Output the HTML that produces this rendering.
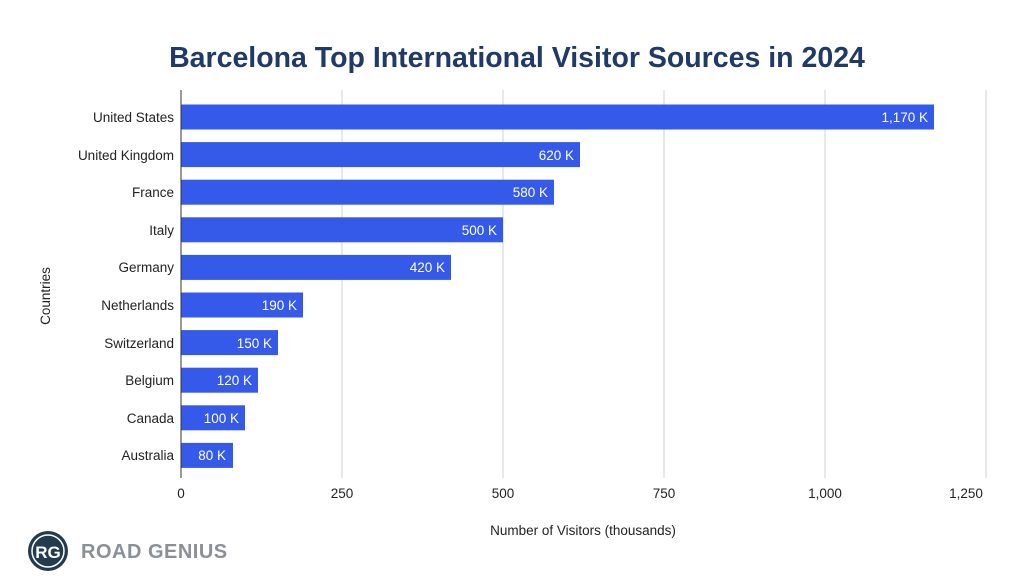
<!DOCTYPE html>
<html><head><style>body{margin:0;background:#fff}svg{display:block}</style></head><body>
<svg width="1024" height="582" xmlns="http://www.w3.org/2000/svg" font-family="Liberation Sans, Arial, sans-serif">
<rect width="1024" height="582" fill="#fff"/>
<text x="517" y="67" text-anchor="middle" font-size="28.5" font-weight="bold" fill="#1f3a68">Barcelona Top International Visitor Sources in 2024</text>
<g stroke="#d0d0d0" stroke-width="1">
<line x1="342" y1="90" x2="342" y2="478"/><line x1="503" y1="90" x2="503" y2="478"/><line x1="664" y1="90" x2="664" y2="478"/><line x1="825" y1="90" x2="825" y2="478"/><line x1="986" y1="90" x2="986" y2="478"/>
</g>
<g fill="#3559e9">
<rect x="181" y="104.5" width="753" height="25"/>
<rect x="181" y="142.1" width="399" height="25"/>
<rect x="181" y="179.7" width="373" height="25"/>
<rect x="181" y="217.3" width="322" height="25"/>
<rect x="181" y="254.9" width="270" height="25"/>
<rect x="181" y="292.5" width="122" height="25"/>
<rect x="181" y="330.1" width="97" height="25"/>
<rect x="181" y="367.7" width="77" height="25"/>
<rect x="181" y="405.3" width="64" height="25"/>
<rect x="181" y="442.9" width="52" height="25"/>
</g>
<line x1="181" y1="90" x2="181" y2="478" stroke="#333" stroke-width="1"/>
<g font-size="13.5" fill="#fff" text-anchor="end">
<text x="928" y="122">1,170 K</text><text x="574" y="160">620 K</text><text x="548" y="197">580 K</text><text x="497" y="235">500 K</text><text x="445" y="272">420 K</text><text x="297" y="310">190 K</text><text x="272" y="348">150 K</text><text x="252" y="385">120 K</text><text x="239" y="423">100 K</text><text x="226" y="460">80 K</text>
</g>
<g font-size="13.5" fill="#222" text-anchor="end">
<text x="174" y="122">United States</text><text x="174" y="160">United Kingdom</text><text x="174" y="197">France</text><text x="174" y="235">Italy</text><text x="174" y="272">Germany</text><text x="174" y="310">Netherlands</text><text x="174" y="348">Switzerland</text><text x="174" y="385">Belgium</text><text x="174" y="423">Canada</text><text x="174" y="460">Australia</text>
</g>
<g font-size="13.5" fill="#222" text-anchor="middle">
<text x="181" y="498">0</text><text x="342" y="498">250</text><text x="503" y="498">500</text><text x="664" y="498">750</text><text x="825" y="498">1,000</text><text x="966" y="498">1,250</text>
<text x="583" y="535">Number of Visitors (thousands)</text>
</g>
<text transform="translate(50,296) rotate(-90)" font-size="13.5" fill="#222" text-anchor="middle">Countries</text>
<circle cx="48" cy="551" r="20" fill="#243b4f"/>
<circle cx="48" cy="551" r="16" fill="none" stroke="#fff" stroke-width="1.5"/>
<text x="48" y="558" font-size="17" font-weight="bold" fill="#fff" text-anchor="middle">RG</text>
<text x="81" y="558" font-size="20" font-weight="bold" fill="#8a9098" letter-spacing="0.5">ROAD GENIUS</text>
</svg>
</body></html>
